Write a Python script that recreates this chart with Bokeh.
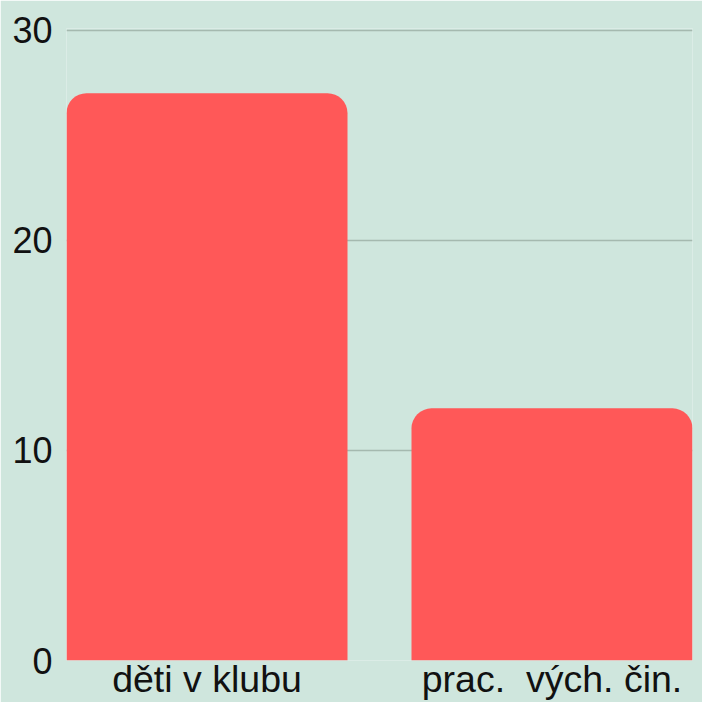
from bokeh.plotting import figure
from bokeh.models import Range1d, FixedTicker
from bokeh.embed import file_html
from bokeh.resources import INLINE

categories = ["děti v klubu", "prac.  vých. čin."]
values = [27, 12]
y_ticks = [0, 10, 20, 30]

bar_w = 0.8145
xs = list(range(len(categories)))

p = figure(width=702, height=702, output_backend="svg", toolbar_location=None,
           x_range=Range1d(-bar_w / 2, len(categories) - 1 + bar_w / 2),
           y_range=Range1d(0, 30.08),
           min_border_left=66, min_border_right=10, min_border_top=28, min_border_bottom=0)

bg = "#cfe6dd"
p.background_fill_color = bg
p.border_fill_color = bg
p.outline_line_color = None

p.vbar(x=xs, top=values, width=bar_w, bottom=0, fill_color="#ff5858", line_color=None,
       border_radius=(20, 20, 0, 0))

p.xgrid.grid_line_color = None
p.ygrid.grid_line_color = "#a5b9af"
p.ygrid.grid_line_width = 1.5

p.yaxis.ticker = FixedTicker(ticks=y_ticks)
p.xaxis.ticker = FixedTicker(ticks=xs)
p.xaxis.major_label_overrides = {i: c.replace("  ", " \u00a0") for i, c in zip(xs, categories)}

for ax in (p.xaxis[0], p.yaxis[0]):
    ax.axis_line_color = None
    ax.major_tick_line_color = None
    ax.minor_tick_line_color = None
    ax.major_label_text_font = "Liberation Sans"
    ax.major_label_text_color = "#111111"

p.yaxis.major_label_text_font_size = "36px"
p.xaxis.major_label_text_font_size = "37.5px"
p.yaxis.major_label_standoff = 8
p.xaxis.major_label_standoff = -9
p.xaxis.major_label_text_line_height = 1.0

open("out.html", "w").write(file_html(p, INLINE))
